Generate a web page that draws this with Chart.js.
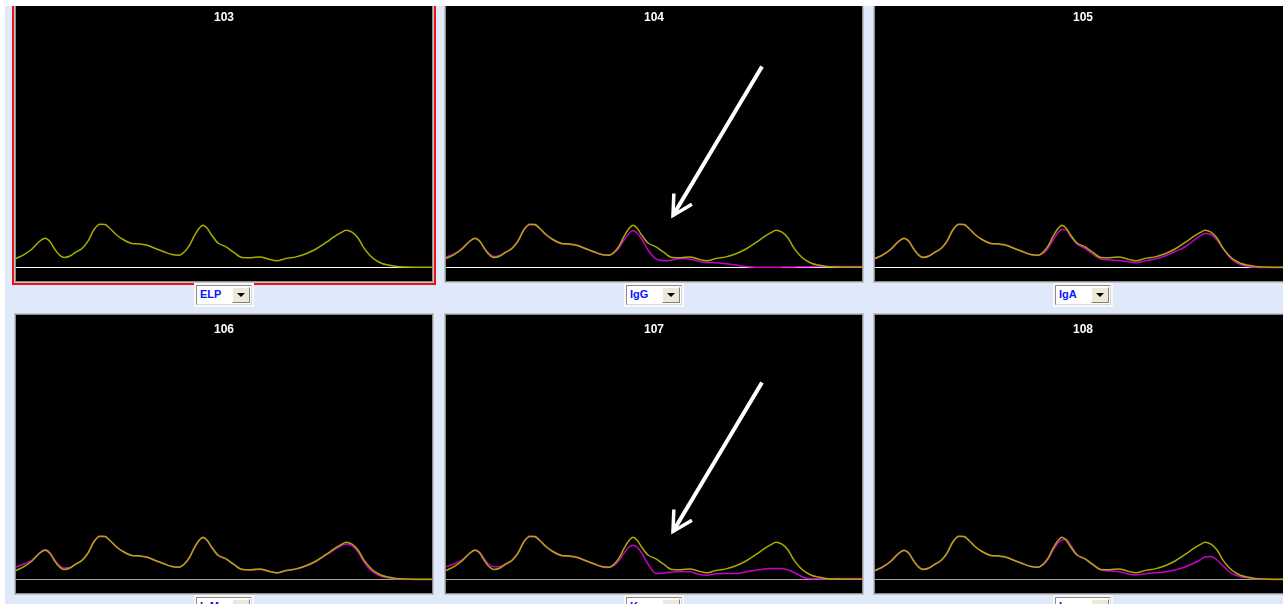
<!DOCTYPE html>
<html>
<head>
<meta charset="utf-8">
<script src="https://cdn.jsdelivr.net/npm/chart.js@4.4.1/dist/chart.umd.min.js"></script>
<style>
  html, body { margin: 0; padding: 0; }
  body {
    width: 1283px; height: 604px; overflow: hidden; position: relative;
    background: #dfe9f9; font-family: "Liberation Sans", Arial, sans-serif;
  }
  .edge-top { position: absolute; left: 0; top: 0; width: 1283px; height: 6px; background: #ffffff; z-index: 5; }
  .edge-left { position: absolute; left: 0; top: 0; width: 5px; height: 604px; background: #ffffff; z-index: 5; }
  .panel {
    position: absolute; width: 416px; height: 278px; background: #000;
    box-shadow: 0 0 0 1px #8e8e8e, 0 0 0 2px #c4c4c4;
  }
  .panel.selected { box-shadow: 0 0 0 1px #8e8e8e, 0 0 0 2px #c4c4c4, 0 0 0 4px #ee1111; }
  .combo-halo { position: absolute; width: 60px; height: 24px; background: #f7f9fd; }
  .combo {
    position: absolute; left: 2px; top: 2px; width: 54px; height: 18px;
    background: #fff; border: 1px solid #8a8a8a; border-right-color: #d8d8d8; border-bottom-color: #d8d8d8;
  }
  .combo span {
    position: absolute; left: 3px; top: 2px; font: bold 11px "Liberation Sans", Arial, sans-serif;
    color: #0a14ff;
  }
  .combo .btn {
    position: absolute; right: 1px; top: 1px; width: 16px; height: 14px; background: #ece9d8;
    border: 1px solid #fff; border-right-color: #808080; border-bottom-color: #808080;
  }
  .combo .btn::after {
    content: ""; position: absolute; left: 4px; top: 5px;
    border-left: 4px solid transparent; border-right: 4px solid transparent; border-top: 4px solid #000;
  }
</style>
</head>
<body>
<div class="edge-top"></div>
<div class="edge-left"></div>
<script>
// Electrophoresis positions along the lane (shared by every trace)
const mobility = [0, 8, 16, 23, 29, 34, 38, 43, 48, 54, 60, 66, 72, 78, 84, 89, 94, 100, 107, 115,
  124, 132, 140, 148, 156, 163, 168, 173, 178, 183, 187, 191, 196, 202, 210, 218, 226, 235, 244, 252,
  261, 270, 280, 290, 300, 310, 318, 325, 330, 336, 342, 348, 354, 360, 366, 372, 380, 390, 400, 416];

// Reference serum protein electrophoresis (yellow trace)
const elp = [9, 12.8, 18.5, 25.7, 29.3, 26, 19.5, 13, 10, 11.5,
  15.5, 19, 26.3, 38, 43.3, 43, 39, 33, 28, 24.3,
  23.4, 22, 18.7, 15.7, 13, 12.3, 15.3, 21.3, 31, 39,
  42.3, 39.5, 32, 24.5, 20.7, 15, 10, 9.7, 10.6, 8.5,
  6.7, 9, 10.6, 13.8, 18.5, 25, 30.5, 34.8, 37.3, 35.3,
  29.5, 19.3, 12, 7, 4, 2.5, 1.1, 0.5, 0.3, 0.2];

// Immunosubtraction traces (magenta)
const igG = [10.5, 13.5, 19, 25.5, 29, 26, 20, 14, 11, 12,
  15.5, 19.5, 26.5, 38, 42.7, 42.5, 38.5, 32.5, 27.5, 23.7,
  23, 21.5, 18.5, 15.5, 12.8, 12.2, 14.5, 19.5, 27.5, 34,
  36.7, 34.5, 28, 17.5, 8.5, 6.7, 7.5, 9, 8.6, 6.5,
  5, 4.8, 3.7, 2.4, 1, 0.3, 0.3, 0.3, 0.3, 0.4,
  0.5, 0.6, 0.7, 0.8, 0.9, 1, 1, 1, 1, 1];

const igA = [8.8, 12.5, 18, 25, 29, 26.5, 20, 13.5, 10.5, 11.5,
  15, 19, 26, 37.5, 43, 43, 39, 33, 28, 24.3,
  23.4, 22, 18.7, 15.7, 12.8, 12, 14, 19, 27.5, 35,
  38, 37.8, 30.5, 23.5, 19, 13, 8.5, 7.5, 7, 6,
  4.8, 6.5, 8.5, 11.5, 16, 20.5, 26.5, 31.5, 34, 33,
  27.5, 19, 11, 5.5, 2.8, 1.2, 0.2, 0, 0, 0];

const igM = [12.5, 15.5, 19.5, 26, 30, 27, 20.5, 14.5, 11.5, 12,
  15.5, 19.5, 26.5, 38, 43, 43, 39, 33, 28, 24.3,
  23.4, 22, 18.7, 15.7, 13, 12.3, 15, 21, 31, 39,
  41.8, 39, 31.5, 24, 20.5, 15, 10.2, 9.5, 10, 8.3,
  6.6, 8.8, 10.5, 13.5, 18, 24.5, 29.5, 33.5, 35.5, 33.5,
  27.5, 17.5, 10, 5.5, 3, 1.8, 0.7, 0.2, 0.1, 0.1];

const kappa = [12.7, 15.5, 19.5, 25.5, 29.7, 27, 21, 15, 12.7, 13,
  15.8, 19.5, 26.5, 38, 42.7, 42.5, 38.5, 32.5, 27.5, 23.7,
  23, 21.5, 18.5, 15.5, 12.5, 12, 14, 19, 26.5, 32.5,
  34.3, 32.5, 26, 15.5, 6, 6.5, 7.6, 8.1, 7.8, 5.5,
  4.3, 5.7, 5.9, 6, 7.5, 9.3, 10.5, 11, 11.1, 11,
  9.6, 7, 4, 1.2, 0.8, 0.8, 0.8, 0.9, 1, 1];

const lambda = [8.7, 12.5, 18, 25, 29, 26.5, 20, 13.5, 10.5, 11.5,
  15, 19, 26, 37.5, 43, 43, 39, 33, 28, 24.3,
  23.4, 22, 18.7, 15.7, 13, 12.3, 14.5, 20, 29, 36.5,
  39.5, 40.3, 34, 25, 20.5, 14.5, 9.5, 8.5, 7.7, 5.8,
  4.6, 5.8, 6.8, 7.6, 9.5, 12.5, 16, 19.5, 22.5, 23,
  19.5, 13.5, 8, 4.5, 2.8, 1.8, 0.8, 0.3, 0.1, 0];

// Lane numbers, antisera and the trace subtracted in each lane
const laneIds = ['103', '104', '105', '106', '107', '108'];
const reagents = ['ELP', 'IgG', 'IgA', 'IgM', 'Kap', 'Lam'];
const laneTraces = [null, igG, igA, igM, kappa, lambda];

// Pointer annotations in lane units: [mobility, height] for tail and tip
const pointers = {
  '104': { tail: [316, 201], tip: [227, 52] },
  '107': { tail: [316, 197], tip: [227, 48] }
};

// Grid placement of the six lanes
const colLeft = [16, 446, 875];
const rowTop = [3, 315];

const toPoints = vals => mobility.map((m, i) => ({ x: m, y: vals[i] }));

// Zero line under the traces
const baselinePlugin = {
  id: 'baseline',
  beforeDatasetsDraw(chart, args, opts) {
    const { ctx, chartArea, scales } = chart;
    const y = Math.round(scales.y.getPixelForValue(0)) + 0.5;
    ctx.save();
    ctx.strokeStyle = opts.color;
    ctx.lineWidth = 1;
    ctx.beginPath();
    ctx.moveTo(chartArea.left, y);
    ctx.lineTo(chartArea.right, y);
    ctx.stroke();
    ctx.restore();
  }
};

// White arrow marking the abnormal band
const pointerPlugin = {
  id: 'pointer',
  afterDatasetsDraw(chart, args, opts) {
    if (!opts.tail) return;
    const { ctx, scales } = chart;
    const tx = scales.x.getPixelForValue(opts.tail[0]), ty = scales.y.getPixelForValue(opts.tail[1]);
    const hx = scales.x.getPixelForValue(opts.tip[0]), hy = scales.y.getPixelForValue(opts.tip[1]);
    const ang = Math.atan2(ty - hy, tx - hx);
    const wing = 22, spread = 0.5;
    ctx.save();
    ctx.strokeStyle = '#ffffff';
    ctx.lineWidth = 4;
    ctx.lineCap = 'butt';
    ctx.beginPath();
    ctx.moveTo(tx, ty);
    ctx.lineTo(hx, hy);
    ctx.stroke();
    ctx.lineWidth = 3.5;
    ctx.lineJoin = 'miter';
    ctx.beginPath();
    ctx.moveTo(hx + wing * Math.cos(ang - spread), hy + wing * Math.sin(ang - spread));
    ctx.lineTo(hx, hy);
    ctx.lineTo(hx + wing * Math.cos(ang + spread), hy + wing * Math.sin(ang + spread));
    ctx.stroke();
    ctx.restore();
  }
};

laneIds.forEach((id, k) => {
  const row = Math.floor(k / 3), col = k % 3;
  const left = colLeft[col], top = rowTop[row];

  const panel = document.createElement('div');
  panel.className = 'panel' + (k === 0 ? ' selected' : '');
  panel.style.left = left + 'px';
  panel.style.top = top + 'px';
  const canvas = document.createElement('canvas');
  panel.appendChild(canvas);
  document.body.appendChild(panel);

  const halo = document.createElement('div');
  halo.className = 'combo-halo';
  halo.style.left = (left + 178) + 'px';
  halo.style.top = (top + 280) + 'px';
  halo.innerHTML = '<div class="combo"><span>' + reagents[k] + '</span><div class="btn"></div></div>';
  document.body.appendChild(halo);

  const datasets = [{
    data: toPoints(elp), borderColor: '#abab00', borderWidth: 1.5
  }];
  if (laneTraces[k]) {
    datasets.push({ data: toPoints(laneTraces[k]), borderColor: '#c800c8', borderWidth: 1.5 });
  }

  new Chart(canvas, {
    type: 'line',
    data: { datasets },
    options: {
      responsive: true,
      maintainAspectRatio: false,
      animation: false,
      events: [],
      layout: { padding: 0 },
      elements: {
        point: { radius: 0 },
        line: { cubicInterpolationMode: 'monotone', fill: false }
      },
      scales: {
        x: { type: 'linear', min: 0, max: 416, display: false },
        y: { min: -13.5, max: 243, display: false }
      },
      plugins: {
        legend: { display: false },
        tooltip: { enabled: false },
        title: {
          display: true, text: id, color: '#ffffff',
          font: { family: 'Liberation Sans', weight: 'bold', size: 12 },
          padding: { top: 7, bottom: 0 }
        },
        baseline: { color: row === 0 ? '#ffffff' : '#a8a8a8' },
        pointer: pointers[id] || {}
      }
    },
    plugins: [baselinePlugin, pointerPlugin]
  });
});
</script>
</body>
</html>
